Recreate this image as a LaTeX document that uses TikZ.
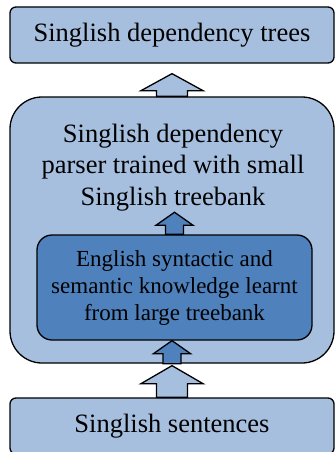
\documentclass[tikz,border=0pt]{standalone}
\usepackage{fontspec}
\setmainfont{Liberation Serif}
\usetikzlibrary{calc}

\definecolor{lightblue}{RGB}{167,191,222}
\definecolor{darkblue}{RGB}{79,129,189}

% block arrow pointing up: style, foot, tip, half shaft, half head, head length
\newcommand{\fatarrow}[6]{%
  \draw[#1] let \p1=#2, \p2=#3 in
    (\x1-#4,\y1) -- (\x1-#4,\y2-#6) -- (\x1-#5,\y2-#6) -- (\x1,\y2)
    -- (\x1+#5,\y2-#6) -- (\x1+#4,\y2-#6) -- (\x1+#4,\y1) -- cycle;}

\begin{document}
\begin{tikzpicture}[x=1pt,y=-1pt,
  box/.style={draw=black, line width=1.3pt, fill=lightblue, rounded corners=6pt,
    minimum width=324pt, minimum height=56pt, inner sep=0pt,
    font=\fontsize{26.5}{31.5}\selectfont},
  bigbox/.style={box, rounded corners=32pt, minimum height=266pt},
  innerbox/.style={box, fill=darkblue, rounded corners=15pt, minimum width=275pt,
    minimum height=105pt, align=center, font=\fontsize{23}{27}\selectfont},
  lightarrow/.style={draw=black, line width=1.3pt, fill=lightblue, line join=miter},
  darkarrow/.style={lightarrow, fill=darkblue}]
  \useasboundingbox (0,0) rectangle (335,452);
  \clip (0,0) rectangle (335,452);

  \node[box] (trees) at (172,35) {Singlish dependency trees};
  \node[bigbox] (parser) at (172,230) {};
  \node[align=center, inner sep=0pt, font=\fontsize{26.5}{31.5}\selectfont] (parsertext) at (173,167.5)
    {Singlish dependency\\parser trained with small\\Singlish treebank};
  \node[box] (sentences) at (172,426) {Singlish sentences};

  \node[innerbox] (english) at (174.5,287.5)
    {English syntactic and\\semantic knowledge learnt\\from large treebank};
  \fatarrow{darkarrow}{(parser.south)}{(english.south)}{9pt}{18.5pt}{13pt}
  \fatarrow{darkarrow}{(english.north)}{($(parsertext.south)+(0,1)$)}{9pt}{18.5pt}{13pt}

  \fatarrow{lightarrow}{(parser.north)}{($(trees.south)+(0,10)$)}{15.5pt}{31pt}{17pt}
  \fatarrow{lightarrow}{(sentences.north)}{($(parser.south)+(0,2)$)}{15.5pt}{31pt}{18pt}
\end{tikzpicture}
\end{document}
